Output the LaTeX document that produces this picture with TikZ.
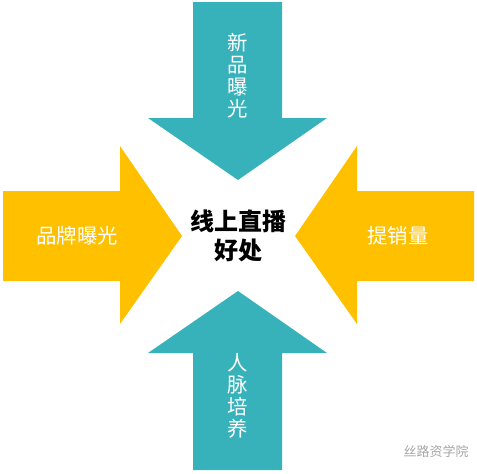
\documentclass[tikz,border=0pt]{standalone}
\usepackage{fontspec}
\newfontfamily\cjk{Noto Sans CJK SC}
\usepackage{tikz}
\definecolor{tealarrow}{RGB}{56,178,186}
\definecolor{goldarrow}{RGB}{255,192,0}

\begin{document}
\begin{tikzpicture}[x=0.5pt,y=-0.5pt,
    label/.style={text=white,font=\cjk\fontsize{10.2}{11}\selectfont,align=center,inner sep=0pt},
    vlabel/.style={label,text width=11pt}]
        \useasboundingbox (0,0) rectangle (477,473);

        % 上箭头
        \draw[fill=tealarrow,draw=none] (193,2) -- (282,2) -- (282,118) -- (327,118)
            -- (238,180) -- (148,118) -- (193,118) -- cycle;
        % 下箭头
        \draw[fill=tealarrow,draw=none] (193,470) -- (282,470) -- (282,353) -- (327,353)
            -- (238,291) -- (148,353) -- (193,353) -- cycle;
        % 左箭头
        \draw[fill=goldarrow,draw=none] (3,191) -- (120,191) -- (120,146) -- (182,236)
            -- (120,324) -- (120,281) -- (3,281) -- cycle;
        % 右箭头
        \draw[fill=goldarrow,draw=none] (474,191) -- (357,191) -- (357,146) -- (295,236)
            -- (357,324) -- (357,281) -- (474,281) -- cycle;

        % 添加标签
        \node[font=\cjk\bfseries\fontsize{12}{14.5}\selectfont,align=center] (center) at (238,236) {线上直播\\好处};
        \node[vlabel] (top) at (238,76) {新\\品\\曝\\光};
        \node[vlabel] (bottom) at (238,396) {人\\脉\\培\\养};
        \node[label] (left) at (77,236) {品牌曝光};
        \node[label] (right) at (398,236) {提销量};

        % 水印
        \node[text=gray!70,font=\cjk\fontsize{6.5}{7}\selectfont] (mark) at (436,452) {丝路资学院};
    \end{tikzpicture}
\end{document}
